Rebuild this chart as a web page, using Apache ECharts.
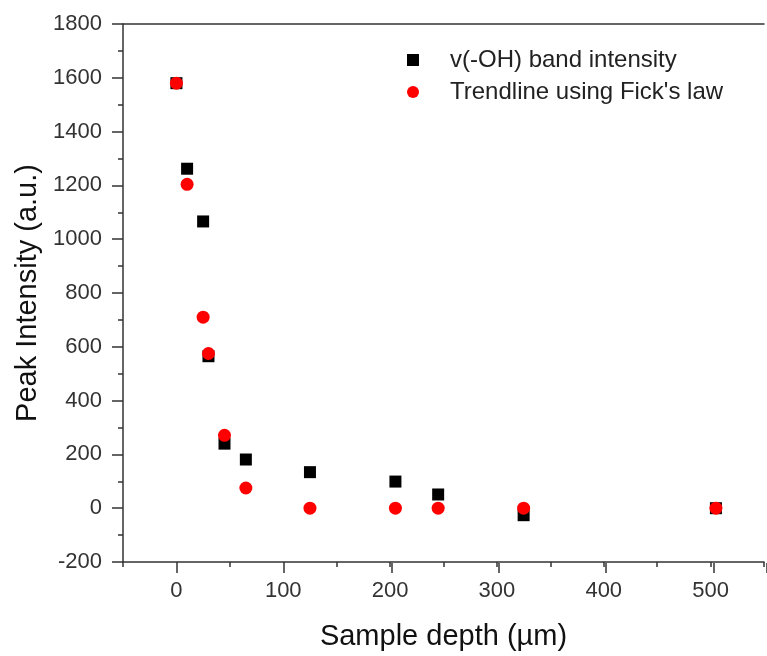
<!DOCTYPE html>
<html>
<head>
<meta charset="utf-8">
<script src="https://cdn.jsdelivr.net/npm/echarts@6/dist/echarts.min.js"></script>
<style>
  html, body { margin: 0; padding: 0; background: #fff; }
  #chart { width: 767px; height: 656px; }
</style>
</head>
<body>
<div id="chart"></div>
<script>
// Sample depth (µm)
const bandDepth = [0, 10, 25, 30, 45, 65, 125, 205, 245, 325, 505];
const bandIntensity = [1580, 1262, 1066, 565, 240, 181, 134, 99, 51, -26, 0];
const fickDepth = [0, 10, 25, 30, 45, 65, 125, 205, 245, 325, 505];
const fickIntensity = [1580, 1204, 710, 575, 271, 75, 0, 0, 0, 0, 0];

const font = 'Arial, "Liberation Sans", sans-serif';
const axisColor = '#333';

// plot box: x from -50 to 550 over 647px
const plotLeft = 123, plotWidth = 647, xMin = -50, xMax = 550;
const pxPerUnit = plotWidth / (xMax - xMin);

const chart = echarts.init(document.getElementById('chart'));

const option = {
  backgroundColor: '#fff',
  animation: false,
  grid: [
    { left: plotLeft, top: 24, width: plotWidth, bottom: 93 },
    // second grid only for the long ticks at 0, 100, ... 500
    { left: plotLeft + (0 - xMin) * pxPerUnit, top: 24, width: (xMax - 0) * pxPerUnit, bottom: 93 }
  ],
  legend: {
    orient: 'vertical',
    left: 402,
    top: 43,
    itemWidth: 12,
    itemHeight: 12,
    itemGap: 8,
    textStyle: {
      fontFamily: font,
      fontSize: 24,
      lineHeight: 24,
      color: '#222',
      padding: [0, 0, 0, 26]
    },
    data: [
      { name: 'v(-OH) band intensity', icon: 'rect' },
      { name: "Trendline using Fick's law", icon: 'circle' }
    ]
  },
  xAxis: [
    {
      type: 'value',
      gridIndex: 0,
      position: 'bottom',
      min: xMin,
      max: xMax,
      interval: 50,
      name: 'Sample depth (µm)',
      nameLocation: 'middle',
      nameGap: 60,
      nameTextStyle: { fontFamily: font, fontSize: 29, color: '#111' },
      axisLine: { onZero: false, lineStyle: { color: axisColor, width: 1.5 } },
      axisTick: { length: 5, lineStyle: { color: axisColor, width: 1.5 } },
      axisLabel: {
        margin: 18,
        fontFamily: font,
        fontSize: 22,
        color: axisColor,
        formatter: function (v) {
          return v % 100 === 0 ? String(v) : '';
        }
      },
      splitLine: { show: false }
    },
    {
      type: 'value',
      gridIndex: 0,
      position: 'top',
      min: xMin,
      max: xMax,
      axisLine: { onZero: false, lineStyle: { color: axisColor, width: 1.5 } },
      axisTick: { show: false },
      axisLabel: { show: false },
      splitLine: { show: false }
    },
    {
      type: 'value',
      gridIndex: 1,
      position: 'bottom',
      min: 0,
      max: xMax,
      interval: 100,
      axisLine: { show: false, onZero: false },
      axisTick: { show: true, length: 10, lineStyle: { color: axisColor, width: 1.5 } },
      axisLabel: { show: false },
      splitLine: { show: false }
    }
  ],
  yAxis: [
    {
      type: 'value',
      gridIndex: 0,
      min: -200,
      max: 1800,
      interval: 200,
      name: 'Peak Intensity (a.u.)',
      nameLocation: 'middle',
      nameGap: 78,
      nameTextStyle: { fontFamily: font, fontSize: 29, color: '#111' },
      axisLine: { onZero: false, lineStyle: { color: axisColor, width: 1.5 } },
      axisTick: { length: 11, lineStyle: { color: axisColor, width: 1.5 } },
      minorTick: { show: true, splitNumber: 2, length: 5, lineStyle: { color: axisColor, width: 1.5 } },
      axisLabel: {
        margin: 21,
        fontFamily: font,
        fontSize: 22,
        color: axisColor,
        formatter: function (v) { return String(v); }
      },
      splitLine: { show: false }
    },
    {
      type: 'value',
      gridIndex: 1,
      min: -200,
      max: 1800,
      show: false
    }
  ],
  series: [
    {
      name: 'v(-OH) band intensity',
      type: 'scatter',
      xAxisIndex: 0,
      yAxisIndex: 0,
      symbol: 'rect',
      symbolSize: 12,
      itemStyle: { color: '#000', opacity: 1 },
      data: bandDepth.map((d, i) => [d, bandIntensity[i]])
    },
    {
      name: "Trendline using Fick's law",
      type: 'scatter',
      xAxisIndex: 0,
      yAxisIndex: 0,
      symbol: 'circle',
      symbolSize: 13,
      itemStyle: { color: '#f00', opacity: 1 },
      data: fickDepth.map((d, i) => [d, fickIntensity[i]])
    }
  ]
};

chart.setOption(option);
</script>
</body>
</html>
